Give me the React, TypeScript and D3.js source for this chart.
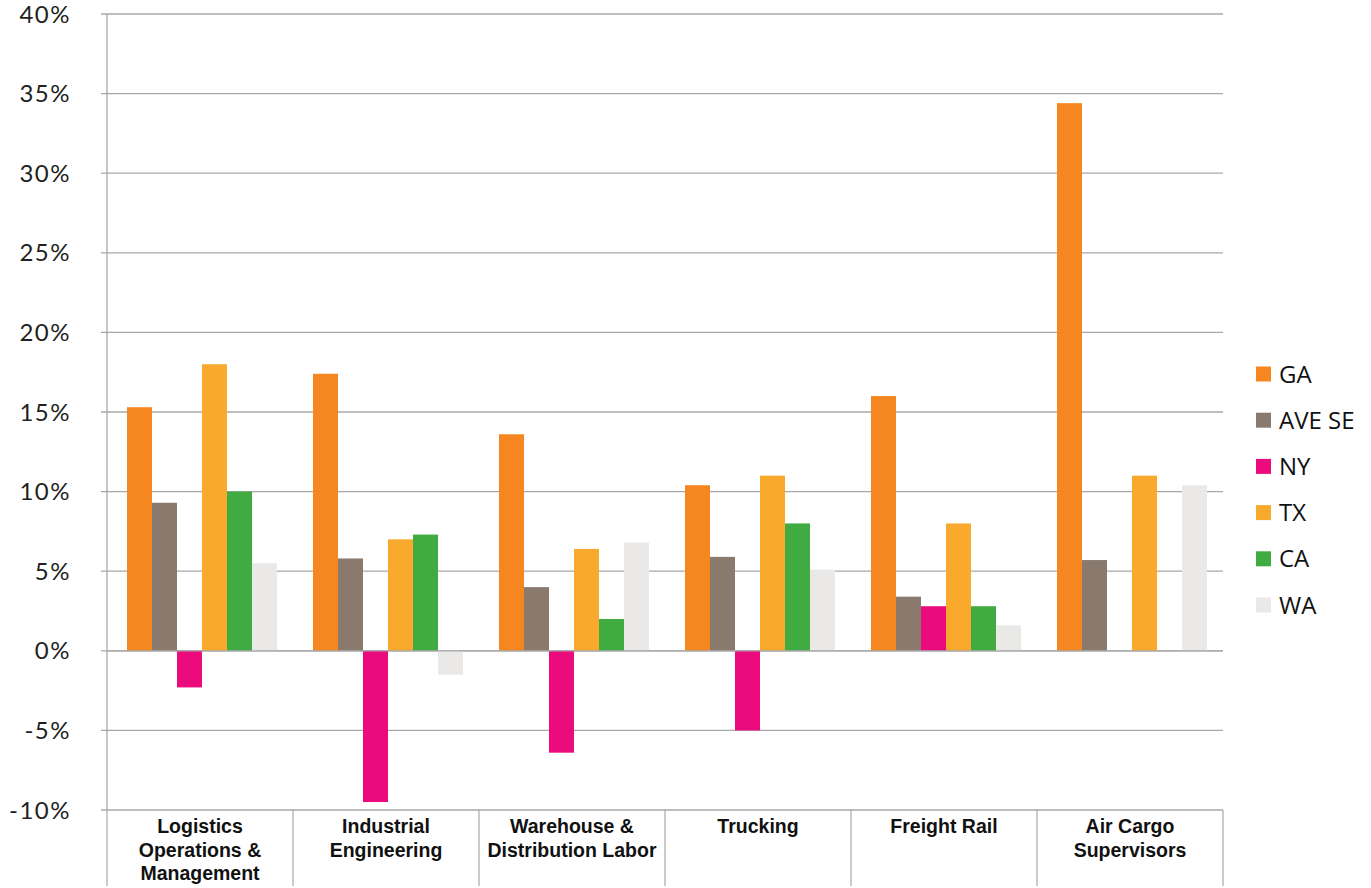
import React from "react";
import * as d3 from "d3";

const categories: string[][] = [
  ["Logistics", "Operations &", "Management"],
  ["Industrial", "Engineering"],
  ["Warehouse &", "Distribution Labor"],
  ["Trucking"],
  ["Freight Rail"],
  ["Air Cargo", "Supervisors"],
];

const seriesNames = ["GA", "AVE SE", "NY", "TX", "CA", "WA"];
const seriesColors = ["#f6861f", "#8a7a6e", "#ec0b7d", "#f9a92b", "#3fab40", "#ebe9e8"];

const GA = [15.3, 17.4, 13.6, 10.4, 16.0, 34.4];
const AVE_SE = [9.3, 5.8, 4.0, 5.9, 3.4, 5.7];
const NY = [-2.3, -9.5, -6.4, -5.0, 2.8, 0];
const TX = [18.0, 7.0, 6.4, 11.0, 8.0, 11.0];
const CA = [10.0, 7.3, 2.0, 8.0, 2.8, 0];
const WA = [5.5, -1.5, 6.8, 5.1, 1.6, 10.4];

const seriesValues = [GA, AVE_SE, NY, TX, CA, WA];
const yTicks = [-10, -5, 0, 5, 10, 15, 20, 25, 30, 35, 40];

const W = 1371;
const H = 888;
const left = 107;
const right = 1223;
const top = 14;
const bottom = 810;

export default function App() {
  const y = d3.scaleLinear().domain([-10, 40]).range([bottom, top]);
  const x0 = d3
    .scaleBand<number>()
    .domain(categories.map((_, i) => i))
    .range([left, right])
    .paddingInner(0)
    .paddingOuter(0);
  const x1 = d3
    .scaleBand<number>()
    .domain(seriesNames.map((_, i) => i))
    .range([20, x0.bandwidth() - 16])
    .padding(0);

  const boundaries = d3.range(categories.length + 1).map((i) =>
    i < categories.length ? (x0(i) as number) : right
  );

  return (
    <svg
      width={W}
      height={H}
      style={{ position: "absolute", left: 0, top: 0, background: "#fff" }}
    >
      {/* gridlines and y ticks */}
      {yTicks.map((t) => (
        <g key={t}>
          <line x1={left - 6} x2={right} y1={y(t)} y2={y(t)} stroke="#a8a8a8" strokeWidth={1.3} />
          <text
            x={71}
            y={y(t)}
            dy="0.36em"
            textAnchor="end"
            fontFamily="Lato, 'Open Sans', sans-serif"
            fontSize={24}
            letterSpacing={1.5}
            fill="#231f20"
          >
            {t + "%"}
          </text>
        </g>
      ))}
      {/* y axis */}
      <line x1={left} x2={left} y1={top} y2={bottom} stroke="#a8a8a8" strokeWidth={1.3} />

      {/* bars */}
      {categories.map((_, ci) => (
        <g key={ci} transform={`translate(${x0(ci)},0)`}>
          {seriesValues.map((vals, si) => {
            const v = vals[ci];
            if (v === 0) return null;
            const y0 = y(0);
            const yv = y(v);
            return (
              <rect
                key={si}
                x={x1(si)}
                y={Math.min(y0, yv)}
                width={x1.bandwidth()}
                height={Math.abs(yv - y0)}
                fill={seriesColors[si]}
              />
            );
          })}
        </g>
      ))}

      {/* zero line over bars */}
      <line x1={left} x2={right} y1={y(0)} y2={y(0)} stroke="#a8a8a8" strokeWidth={1.3} />

      {/* category dividers */}
      {boundaries.map((bx, i) => (
        <line key={i} x1={bx} x2={bx} y1={bottom} y2={H - 2} stroke="#b0b0b0" strokeWidth={1.3} />
      ))}

      {/* category labels */}
      {categories.map((lines, ci) => (
        <text
          key={ci}
          x={(x0(ci) as number) + x0.bandwidth() / 2}
          y={833}
          textAnchor="middle"
          fontFamily="'Liberation Sans Narrow', 'Arial Narrow', 'Liberation Sans', sans-serif"
          fontWeight="bold"
          fontSize={19.5}
          fill="#111"
        >
          {lines.map((l, li) => (
            <tspan key={li} x={(x0(ci) as number) + x0.bandwidth() / 2} dy={li === 0 ? 0 : 23.5}>
              {l}
            </tspan>
          ))}
        </text>
      ))}

      {/* legend */}
      {seriesNames.map((name, i) => (
        <g key={name} transform={`translate(1256,${374 + i * 46.2})`}>
          <rect x={0} y={-7.5} width={15} height={15} fill={seriesColors[i]} />
          <text
            x={23}
            y={0}
            dy="0.36em"
            fontFamily="'Open Sans', sans-serif"
            fontSize={24}
            fill="#111"
          >
            {name}
          </text>
        </g>
      ))}
    </svg>
  );
}
